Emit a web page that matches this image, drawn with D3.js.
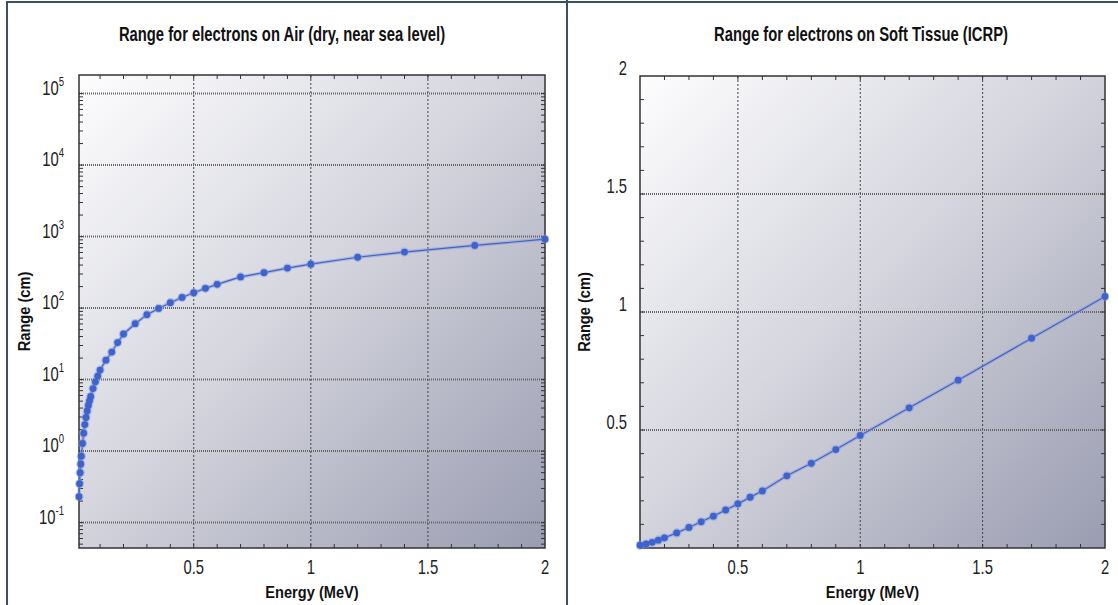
<!DOCTYPE html>
<html>
<head>
<meta charset="utf-8">
<script src="https://cdn.jsdelivr.net/npm/d3@7"></script>
<style>
  body { margin: 0; background: #fff; }
  svg { display: block; }
  .tick-label { font-family: "Liberation Sans", Arial, sans-serif; font-size: 20px; fill: #222; }
  .axis-title { font-family: "Liberation Sans", Arial, sans-serif; font-size: 17px; font-weight: bold; fill: #111; }
  .chart-title { font-family: "Liberation Sans", Arial, sans-serif; font-size: 20px; font-weight: bold; fill: #111; }
</style>
</head>
<body>
<div class="js-board"></div>
<script>
// electron range in air (cm)
var airEnergy = [0.01, 0.0125, 0.015, 0.0175, 0.02, 0.025, 0.03, 0.035, 0.04, 0.045,
  0.05, 0.055, 0.06, 0.07, 0.08, 0.09, 0.1, 0.125, 0.15, 0.175,
  0.2, 0.25, 0.3, 0.35, 0.4, 0.45, 0.5, 0.55, 0.6, 0.7,
  0.8, 0.9, 1, 1.2, 1.4, 1.7, 2];
var airRange = [0.23, 0.35, 0.5, 0.66, 0.85, 1.28, 1.78, 2.35, 2.95, 3.65,
  4.35, 5.05, 5.8, 7.5, 9.3, 11.2, 13.6, 18.7, 24.3, 33,
  43.4, 60.5, 81, 99, 119, 141, 164, 189, 215, 273,
  313, 363, 412, 514, 608, 752, 919];

// electron range in soft tissue (cm), right chart
var tissueEnergy = [0.1, 0.125, 0.15, 0.175, 0.2, 0.25, 0.3, 0.35, 0.4, 0.45,
  0.5, 0.55, 0.6, 0.7, 0.8, 0.9, 1, 1.2, 1.4, 1.7, 2];
var tissueRange = [0.012, 0.017, 0.024, 0.033, 0.043, 0.064, 0.087, 0.111, 0.135, 0.161,
  0.187, 0.215, 0.242, 0.306, 0.359, 0.417, 0.477, 0.594, 0.711, 0.889, 1.066];

var xTickValues = [0.5, 1, 1.5, 2];
var logTickExps = [-1, 0, 1, 2, 3, 4, 5];
var linTickValues = [0.5, 1, 1.5, 2];

var titles = ['Range for electrons on Air (dry, near sea level)', 'Range for electrons on Soft Tissue (ICRP)'];
var xTitle = 'Energy (MeV)';
var yTitle = 'Range (cm)';

// the original uses a narrow face, squeeze Liberation Sans instead
var NARROW = 0.74;

var svg = d3.select('.js-board').append('svg')
  .attr('width', 1118)
  .attr('height', 605);

var defs = svg.append('defs');
var grad = defs.append('linearGradient')
  .attr('id', 'plotbg')
  .attr('x1', 0).attr('y1', 0).attr('x2', 1).attr('y2', 1);
grad.append('stop').attr('offset', 0).attr('stop-color', '#fdfdfe');
grad.append('stop').attr('offset', 0.45).attr('stop-color', '#d6d7df');
grad.append('stop').attr('offset', 1).attr('stop-color', '#9a9cb1');

// frame round both panels
svg.append('rect')
  .attr('x', 7).attr('y', 2).attr('width', 1118).attr('height', 610)
  .attr('fill', 'none').attr('stroke', '#3b4f66').attr('stroke-width', 2);
svg.append('line')
  .attr('x1', 567).attr('x2', 567).attr('y1', 0).attr('y2', 605)
  .attr('stroke', '#3b4f66').attr('stroke-width', 2);

function squeeze(sel, x, y, sx) {
  return sel.attr('transform', function(d, i) {
    var xx = typeof x === 'function' ? x(d, i) : x;
    var yy = typeof y === 'function' ? y(d, i) : y;
    return 'translate(' + xx + ',' + yy + ') scale(' + sx + ',1)';
  });
}

function drawPanel(opt) {
  var g = svg.append('g');
  var x = opt.x, y = opt.y;
  var x0 = x.range()[0], x1 = x.range()[1];
  var y0 = y.range()[0], y1 = y.range()[1];

  g.append('rect')
    .attr('x', x0).attr('y', y1)
    .attr('width', x1 - x0).attr('height', y0 - y1)
    .attr('fill', 'url(#plotbg)');

  // grid
  g.selectAll('.vgrid')
    .data(xTickValues.filter(function(d) { return d < x.domain()[1]; }))
    .enter().append('line')
    .attr('x1', function(d) { return x(d); })
    .attr('x2', function(d) { return x(d); })
    .attr('y1', y1).attr('y2', y0)
    .attr('stroke', '#444').attr('stroke-width', 1)
    .attr('stroke-dasharray', '2,2');

  g.selectAll('.hgrid')
    .data(opt.yGrid)
    .enter().append('line')
    .attr('x1', x0).attr('x2', x1)
    .attr('y1', function(d) { return y(d); })
    .attr('y2', function(d) { return y(d); })
    .attr('stroke', '#666').attr('stroke-width', 2)
    .attr('stroke-dasharray', '1,1');

  // inward ticks on all four sides
  var xMinor = d3.range(1, 21).map(function(i) { return i / 10; })
    .filter(function(d) { return d > x.domain()[0] && d < x.domain()[1]; });
  [y0, y1].forEach(function(yy, k) {
    var dir = k === 0 ? -1 : 1;
    g.selectAll(null)
      .data(xMinor)
      .enter().append('line')
      .attr('x1', function(d) { return x(d); })
      .attr('x2', function(d) { return x(d); })
      .attr('y1', yy)
      .attr('y2', yy + dir * 4)
      .attr('stroke', '#333').attr('stroke-width', 1);
  });
  [x0, x1].forEach(function(xx, k) {
    var dir = k === 0 ? 1 : -1;
    g.selectAll(null)
      .data(opt.yMinor)
      .enter().append('line')
      .attr('y1', function(d) { return y(d); })
      .attr('y2', function(d) { return y(d); })
      .attr('x1', xx)
      .attr('x2', xx + dir * 4)
      .attr('stroke', '#333').attr('stroke-width', 1);
  });

  g.append('rect')
    .attr('x', x0).attr('y', y1)
    .attr('width', x1 - x0).attr('height', y0 - y1)
    .attr('fill', 'none').attr('stroke', '#333').attr('stroke-width', 1.5);

  // series
  var pts = opt.energy.map(function(e, i) { return [e, opt.range[i]]; });
  var line = d3.line()
    .x(function(d) { return x(d[0]); })
    .y(function(d) { return y(d[1]); });

  var clipId = 'clip' + opt.id;
  defs.append('clipPath').attr('id', clipId)
    .append('rect')
    .attr('x', x0 - 4).attr('y', y1)
    .attr('width', x1 - x0 + 8).attr('height', y0 - y1 + 4);

  var series = g.append('g').attr('clip-path', 'url(#' + clipId + ')');
  series.append('path')
    .datum(pts)
    .attr('d', line)
    .attr('fill', 'none')
    .attr('stroke', '#8aa0e6').attr('stroke-width', 3.5).attr('stroke-opacity', 0.55);
  series.append('path')
    .datum(pts)
    .attr('d', line)
    .attr('fill', 'none')
    .attr('stroke', '#4862b8').attr('stroke-width', 1.2);
  series.selectAll('circle.halo')
    .data(pts)
    .enter().append('circle')
    .attr('cx', function(d) { return x(d[0]); })
    .attr('cy', function(d) { return y(d[1]); })
    .attr('r', 4.6)
    .attr('fill', '#7f97e3').attr('fill-opacity', 0.5);
  series.selectAll('circle.dot')
    .data(pts)
    .enter().append('circle')
    .attr('cx', function(d) { return x(d[0]); })
    .attr('cy', function(d) { return y(d[1]); })
    .attr('r', 3.4)
    .attr('fill', '#3f63cc');

  // x tick labels
  var xl = g.selectAll('.xlab')
    .data(xTickValues)
    .enter().append('text')
    .attr('class', 'tick-label')
    .attr('text-anchor', 'middle')
    .text(function(d) { return d; });
  squeeze(xl, function(d) { return x(d); }, y0 + 26, NARROW);

  opt.yLabels(g);

  var t = svg.append('text')
    .attr('class', 'chart-title')
    .attr('text-anchor', 'middle')
    .text(opt.title);
  squeeze(t, opt.titleX, 41, 0.74);

  var xt = svg.append('text')
    .attr('class', 'axis-title')
    .attr('text-anchor', 'middle')
    .text(xTitle);
  squeeze(xt, (x0 + x1) / 2, y0 + 50, 0.86);

  svg.append('text')
    .attr('class', 'axis-title')
    .attr('transform', 'translate(' + opt.yTitleX + ',' + (y0 + y1) / 2 + ') rotate(-90) scale(0.86,1)')
    .attr('text-anchor', 'middle')
    .text(yTitle);
}

// left: log scale
var xAir = d3.scaleLinear().domain([0.01, 2]).range([79, 545]);
var yAir = d3.scaleLog().domain([Math.pow(10, -1.355), Math.pow(10, 5.26)]).range([548, 75]);
var logMinor = [];
d3.range(-2, 6).forEach(function(e) {
  d3.range(1, 10).forEach(function(m) {
    var v = m * Math.pow(10, e);
    if (v > yAir.domain()[0] && v < yAir.domain()[1]) logMinor.push(v);
  });
});

drawPanel({
  id: 'air',
  x: xAir, y: yAir,
  energy: airEnergy, range: airRange,
  yGrid: logTickExps.map(function(e) { return Math.pow(10, e); }),
  yMinor: logMinor,
  title: titles[0], titleX: 282, yTitleX: 30,
  yLabels: function(g) {
    var t = g.selectAll('.ylab')
      .data(logTickExps)
      .enter().append('text')
      .attr('class', 'tick-label')
      .attr('text-anchor', 'end');
    t.append('tspan').text('10');
    t.append('tspan')
      .attr('dy', -9)
      .style('font-size', '13px')
      .text(function(d) { return d; });
    squeeze(t, 64, function(d) { return yAir(Math.pow(10, d)) + 1; }, NARROW);
  }
});

// right: linear scale
var xTis = d3.scaleLinear().domain([0.1, 2]).range([640, 1105]);
var yTis = d3.scaleLinear().domain([0, 2]).range([548, 76]);

drawPanel({
  id: 'tissue',
  x: xTis, y: yTis,
  energy: tissueEnergy, range: tissueRange,
  yGrid: [0.5, 1, 1.5],
  yMinor: d3.range(1, 20).map(function(i) { return i / 10; }),
  title: titles[1], titleX: 861, yTitleX: 590,
  yLabels: function(g) {
    var t = g.selectAll('.ylab')
      .data(linTickValues)
      .enter().append('text')
      .attr('class', 'tick-label')
      .attr('text-anchor', 'end')
      .text(function(d) { return d; });
    squeeze(t, 627, function(d) { return yTis(d) - 1; }, NARROW);
  }
});
</script>
</body>
</html>
